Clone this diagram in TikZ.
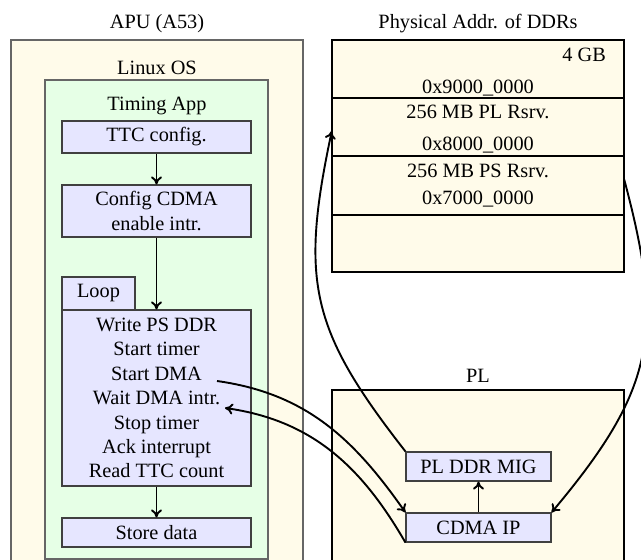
\documentclass[tikz,border=0pt]{standalone}
\usepackage{fontspec}
\setmainfont{Liberation Serif}
\usetikzlibrary{arrows.meta}
\definecolor{yfill}{RGB}{255,251,234}
\definecolor{gfill}{RGB}{230,255,230}
\definecolor{bfill}{RGB}{230,230,255}
\begin{document}
\begin{tikzpicture}[x=1pt,y=-1pt,
  every node/.style={font=\fontsize{20.3}{24.4}\selectfont},
  outerbox/.style={draw=black!60, fill=yfill, line width=1.1pt, inner sep=0pt},
  greenbox/.style={draw=black!60, fill=gfill, line width=1.1pt, inner sep=0pt},
  blkbox/.style={draw=black, fill=yfill, line width=1.1pt, inner sep=0pt},
  bluebox/.style={draw=black!75, fill=bfill, line width=1.1pt, inner sep=2pt, align=center},
  rowbox/.style={inner sep=0pt, minimum width=292pt},
  sepline/.style={draw=black, line width=1.8pt},
  txt/.style={anchor=base, inner sep=0pt},
  flow/.style={line width=1.9pt, -{To[length=8pt,width=11pt]}}
]
\useasboundingbox (0,0) rectangle (641,560);
\clip (0,0) rectangle (641,560);

% titles
\node[txt] (apulbl) at (157,28) {APU (A53)};
\node[txt] (ddrlbl) at (478,28) {Physical Addr. of DDRs};

% APU side
\node[outerbox, minimum width=292pt, minimum height=540pt] (apu) at (157,310) {};
\node[txt] (linuxlbl) at (157,74) {Linux OS};
\node[greenbox, minimum width=223pt, minimum height=479pt] (linux) at (156.5,319.5) {};
\node[txt] (applbl) at (157,110) {Timing App};

\node[bluebox, minimum width=189pt, minimum height=32pt] (ttc) at (156.5,137) {TTC config.};
\node[bluebox, minimum width=189pt, minimum height=52pt] (cfg) at (156.5,211) {Config CDMA\\enable intr.};
\node[bluebox, minimum width=73pt, minimum height=33pt] (looplbl) at (98.5,293.5) {Loop};
\node[bluebox, minimum width=189pt, minimum height=176pt] (loop) at (156.5,398) {Write PS DDR\\Start timer\\Start DMA\\Wait DMA intr.\\Stop timer\\Ack interrupt\\Read TTC count};
\node[bluebox, minimum width=189pt, minimum height=29pt] (store) at (156.5,532.5) {Store data};
\coordinate (startdma) at (217,381);
\coordinate (waitdma) at (225,408);

% DDR address map
\node[blkbox, minimum width=292pt, minimum height=232pt] (ddr) at (478,156) {};
\node[rowbox, minimum height=58pt] (toprow) at (478,69) {};
\node[rowbox, minimum height=58pt] (plrow) at (478,127) {};
\node[rowbox, minimum height=59pt] (psrow) at (478,185.5) {};
\node[rowbox, minimum height=57pt] (lowrow) at (478,243.5) {};
\draw[sepline] (toprow.south west) -- (toprow.south east);
\draw[sepline] (plrow.south west) -- (plrow.south east);
\draw[sepline] (psrow.south west) -- (psrow.south east);
\node[txt, anchor=base east] (gb) at (606,61) {4 GB};
\node[txt] (a9) at (478,93) {0x9000\_0000};
\node[txt] (plr) at (478,118) {256 MB PL Rsrv.};
\node[txt] (a8) at (478,150) {0x8000\_0000};
\node[txt] (psr) at (478,177) {256 MB PS Rsrv.};
\node[txt] (a7) at (478,204) {0x7000\_0000};

% PL side
\node[txt] (pllbl) at (478,382) {PL};
\node[blkbox, minimum width=292pt, minimum height=190pt] (pl) at (478,485) {};
\node[bluebox, minimum width=145pt, minimum height=29pt] (mig) at (478.5,466.5) {PL DDR MIG};
\node[bluebox, minimum width=145pt, minimum height=29pt] (cdma) at (478.5,527.5) {CDMA IP};

% connectors
\draw[flow] (ttc.south) -- (cfg.north);
\draw[flow] (cfg.south) -- (loop.north);
\draw[flow] (loop.south) -- (store.north);
\draw[flow] (cdma.north) -- (mig.south);
\draw[flow] (startdma) to[out=-8, in=125] (cdma.north west);
\draw[flow] (cdma.south west) to[out=120, in=-8] (waitdma);
\draw[flow] (mig.north west) to[out=128, in=-102, looseness=1.2] ([yshift=-4pt]plrow.west);
\draw[flow] ([yshift=6pt]psrow.east) to[out=-75, in=50, looseness=1.2] (cdma.north east);
\end{tikzpicture}
\end{document}
